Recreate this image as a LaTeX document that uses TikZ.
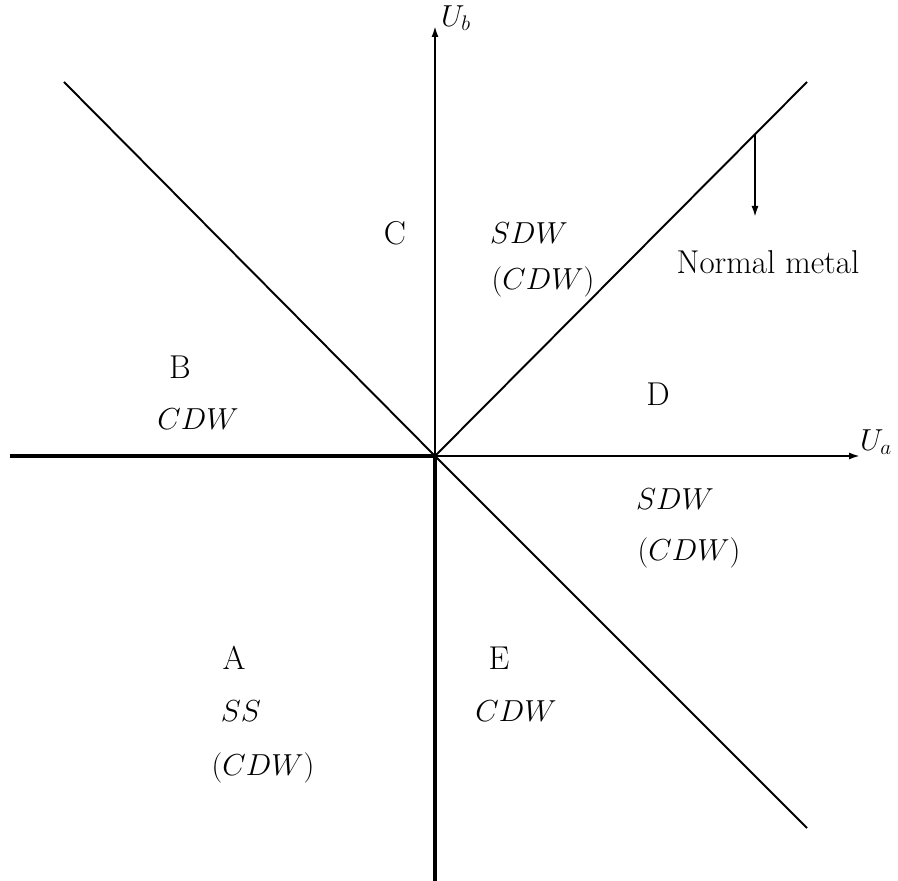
\documentclass[tikz,border=0pt]{standalone}
\usepackage{amsmath}
\usepackage{tikz}
\usetikzlibrary{arrows.meta,positioning}
\tikzset{
  thin line/.style  = {line width=1.1pt},
  thick line/.style = {line width=2.4pt},
  axis/.style       = {line width=1.1pt, -{Latex[length=0.22cm, width=0.14cm]}},
  lab/.style        = {font=\fontsize{18.8}{22}\selectfont, inner sep=1pt},
}

\begin{document}
\begin{tikzpicture}[x=0.02cm, y=-0.02cm]
  \useasboundingbox (0,0) rectangle (898,881);
  % axes
  \coordinate (O) at (435,456);
  \coordinate (xl) at (10,456);
  \coordinate (xr) at (860,456);
  \coordinate (yt) at (435,26);
  \coordinate (yb) at (435,881);
  % phase boundaries
  \coordinate (ul) at (64,82);
  \coordinate (ur) at (807,82);
  \coordinate (lr) at (807,828);
  \coordinate (nm) at (755,134);
  \coordinate (nmend) at (755,217);

  \draw[thick line] (xl) -- (O);
  \draw[thick line] (O) -- (yb);
  \draw[axis] (O) -- (xr);
  \draw[axis] (O) -- (yt);
  \draw[thin line] (ul) -- (O);
  \draw[thin line] (O) -- (ur);
  \draw[thin line] (O) -- (lr);
  \draw[axis] (nm) -- (nmend);

  \node[lab] (ub) at (456,18) {$U_b$};
  \node[lab] (ua) at (876,442) {$U_a$};

  \node[lab] (c) at (395,233) {C};
  \node[lab] (csdw) at (529,233) {$SDW$};
  \node[lab] (ccdw) at (543,282) {$(CDW)$};
  \node[lab] (normal) at (768,262) {Normal metal};
  \node[lab] (b) at (180,367) {B};
  \node[lab] (bcdw) at (198,419) {$CDW$};
  \node[lab] (d) at (658,394) {D};
  \node[lab] (dsdw) at (675,499) {$SDW$};
  \node[lab] (dcdw) at (689,553) {$(CDW)$};
  \node[lab] (a) at (234,658) {A};
  \node[lab] (ass) at (241,711) {$SS$};
  \node[lab] (acdw) at (263,768) {$(CDW)$};
  \node[lab] (e) at (499,658) {E};
  \node[lab] (ecdw) at (516,711) {$CDW$};
\end{tikzpicture}
\end{document}
